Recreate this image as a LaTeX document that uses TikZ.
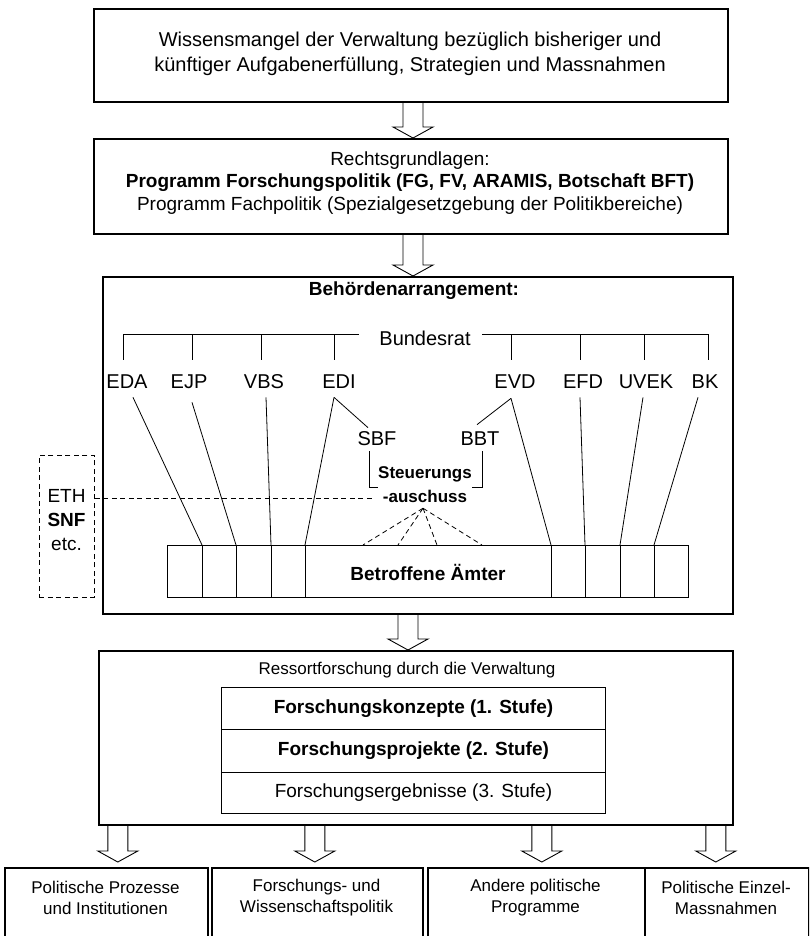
\documentclass[tikz,border=0pt]{standalone}
\usepackage{fontspec}
\setmainfont{Liberation Sans}
\usetikzlibrary{calc}
\newcommand\myharrow[2]{%
  \draw[harr] let \p1=(#1), \p2=(#2) in
    (\x1-10pt,\y1) -- (\x1-10pt,\y2+11pt) -- (\x1-20pt,\y2+11pt) -- (\x1,\y2)
    -- (\x1+20pt,\y2+11pt) -- (\x1+10pt,\y2+11pt) -- (\x1+10pt,\y1);}
\begin{document}
\begin{tikzpicture}[x=1pt,y=-1pt,
  bigbox/.style={draw, line width=1.6pt, inner sep=0pt, anchor=north west},
  thinbox/.style={draw, line width=0.9pt, inner sep=0pt, anchor=north west},
  ln/.style={line width=0.8pt},
  dln/.style={line width=0.8pt, dash pattern=on 5pt off 3.5pt},
  harr/.style={line width=0.9pt},
  fA/.style={font=\fontsize{20}{25}\selectfont},
  fB/.style={font=\fontsize{19}{22.5}\selectfont},
  fC/.style={font=\fontsize{17}{21}\selectfont},
  dept/.style={font=\fontsize{20}{24}\selectfont, inner sep=0pt, text height=14.3pt, text depth=0pt},
]
\useasboundingbox (0,0) rectangle (809,936);
\clip (0,0) rectangle (809,936);

% ---------- main boxes ----------
\node[bigbox, minimum width=634pt, minimum height=93pt] (b1) at (93,8) {};
\node[fA, align=center] (t1) at (410,54) {Wissensmangel der Verwaltung bezüglich bisheriger und\\künftiger Aufgabenerfüllung, Strategien und Massnahmen};

\node[bigbox, minimum width=634pt, minimum height=95pt] (b2) at (93,138) {};
\node[fB, align=center] (t2) at (410,183) {Rechtsgrundlagen:\\\textbf{Programm Forschungspolitik (FG, FV, ARAMIS, Botschaft BFT)}\\Programm Fachpolitik (Spezialgesetzgebung der Politikbereiche)};

\node[bigbox, minimum width=630pt, minimum height=337pt] (b3) at (102,276) {};
\node[fB, font=\fontsize{19}{23}\selectfont\bfseries] (t3) at (414,291) {Behördenarrangement:};

\node[bigbox, minimum width=634pt, minimum height=174pt] (b4) at (98,650) {};
\begin{scope}
  \clip (98,650) rectangle (732,678);
  \node[fC] (t4) at (407,670) {Ressortforschung durch die Verwaltung};
\end{scope}
\node[thinbox, minimum width=384pt, minimum height=42pt, fB, font=\fontsize{19}{23}\selectfont\bfseries] (r1) at (221,687) {Forschungskonzepte (1. Stufe)};
\node[thinbox, minimum width=384pt, minimum height=43pt, fB, font=\fontsize{19}{23}\selectfont\bfseries] (r2) at (221,729) {Forschungsprojekte (2. Stufe)};
\node[thinbox, minimum width=384pt, minimum height=41pt, fB] (r3) at (221,772) {Forschungsergebnisse (3. Stufe)};

% ---------- bottom boxes ----------
\node[bigbox, minimum width=203pt, minimum height=90pt] (o1) at (4,867) {};
\node[bigbox, minimum width=211pt, minimum height=90pt] (o2) at (211,867) {};
\node[bigbox, minimum width=217pt, minimum height=90pt] (o3) at (427,867) {};
\node[bigbox, minimum width=164pt, minimum height=90pt] (o4) at (644,867) {};
\node[fC, align=center] (u1) at (105.5,898) {Politische Prozesse\\und Institutionen};
\node[fC, align=center] (u2) at (316.5,898) {Forschungs- und\\Wissenschaftspolitik};
\node[fC, align=center] (u3) at (535.5,898) {Andere politische\\Programme};
\node[fC, align=center] (u4) at (726,898) {Politische Einzel-\\Massnahmen};

% ---------- block arrows ----------
\coordinate (axA) at (413,0);
\coordinate (axB) at (408,0);
\myharrow{b1.south -| axA}{b2.north -| axA}
\myharrow{b2.south -| axA}{b3.north -| axA}
\myharrow{b3.south -| axB}{b4.north -| axB}
\coordinate (e1) at ($(o1.north)+(11.5,-5)$);
\coordinate (e2) at ($(o2.north)+(-2.5,-5)$);
\coordinate (e3) at ($(o3.north)+(5.5,-5)$);
\coordinate (e4) at ($(o4.north)+(-11,-5)$);
\myharrow{b4.south -| e1}{e1}
\myharrow{b4.south -| e2}{e2}
\myharrow{b4.south -| e3}{e3}
\myharrow{b4.south -| e4}{e4}

% ---------- Behoerdenarrangement ----------
\node[dept] (br) at (425,338) {Bundesrat};
\coordinate (brl) at (359,334);
\coordinate (brr) at (482,334);

\node[dept] (eda) at (127,381) {EDA};
\node[dept] (ejp) at (189,381) {EJP};
\node[dept] (vbs) at (264,381) {VBS};
\node[dept] (edi) at (339,381) {EDI};
\node[dept] (evd) at (515,381) {EVD};
\node[dept] (efd) at (583,381) {EFD};
\node[dept] (uvek) at (646,381) {UVEK};
\node[dept] (bk) at (705,381) {BK};

\draw[ln] ($(eda.north)+(-4,-14)$) |- (brl);
\draw[ln] ($(ejp.north)+(3,-14)$) -- ++(0,-26);
\draw[ln] ($(vbs.north)+(-3,-14)$) -- ++(0,-26);
\draw[ln] ($(edi.north)+(-5,-14)$) -- ++(0,-26);
\draw[ln] (brr) -| ($(bk.north)+(3,-14)$);
\draw[ln] ($(evd.north)+(-4,-14)$) -- ++(0,-26);
\draw[ln] ($(efd.north)+(-3,-14)$) -- ++(0,-26);
\draw[ln] ($(uvek.north)+(-2,-14)$) -- ++(0,-26);

\node[dept] (sbf) at (377,438) {SBF};
\node[dept] (bbt) at (480,438) {BBT};
\node[font=\fontsize{17}{24}\selectfont\bfseries, align=center, inner sep=0pt] (steu) at (425,485) {Steuerungs\\-auschuss};

% bar of offices
\node[thinbox, minimum width=521pt, minimum height=52pt] (bar) at (167,545) {};
\node[font=\fontsize{19}{23}\selectfont\bfseries] (amt) at (428,572) {Betroffene Ämter};
\foreach \dx [count=\i] in {35,69,104,138,384,418,453,487} {
  \coordinate (d\i) at ($(bar.north west)+(\dx,0)$);
  \draw[ln] (d\i) -- ++(0,52);
}

\draw[ln] ($(eda.south)+(6,9)$) -- (d1);
\draw[ln] ($(ejp.south)+(3,14)$) -- (d2);
\draw[ln] ($(vbs.south)+(2,9)$) -- (d3);
\draw[ln] ($(edi.south)+(-5,9)$) -- (d4);
\draw[ln] ($(edi.south)+(-5,9)$) -- ($(sbf.north)+(-9,-3)$);
\draw[ln] ($(evd.south)+(-4,10)$) -- (d5);
\draw[ln] ($(evd.south)+(-4,10)$) -- ($(bbt.north)+(-3,-6)$);
\draw[ln] ($(efd.south)+(-3,9)$) -- (d6);
\draw[ln] ($(uvek.south)+(-3,9)$) -- (d7);
\draw[ln] ($(bk.south)+(-7,9)$) -- (d8);

% brackets round the Steuerungsausschuss
\draw[ln] ($(sbf.south)+(-8,6)$) |- ($(steu.west)+(0,2)$);
\draw[ln] ($(bbt.south)+(2,6)$) |- ($(steu.east)+(0,2)$);

% dashed fan
\coordinate (apex) at ($(steu.south)+(-2,5)$);
\foreach \dx in {196,231,270,315} {
  \draw[dln] (apex) -- ($(bar.north west)+(\dx,0)$);
}

% ETH / SNF box
\node[draw, dln, inner sep=0pt, anchor=north west, minimum width=55pt, minimum height=142pt] (eth) at (39,455) {};
\node[font=\fontsize{19}{24}\selectfont, align=center, inner sep=0pt] (etht) at (66.5,520) {ETH\\\textbf{SNF}\\etc.};
\draw[dln] (eth.east |- 0,498) -- ($(steu.west)+(-6,13)$);

\end{tikzpicture}
\end{document}
